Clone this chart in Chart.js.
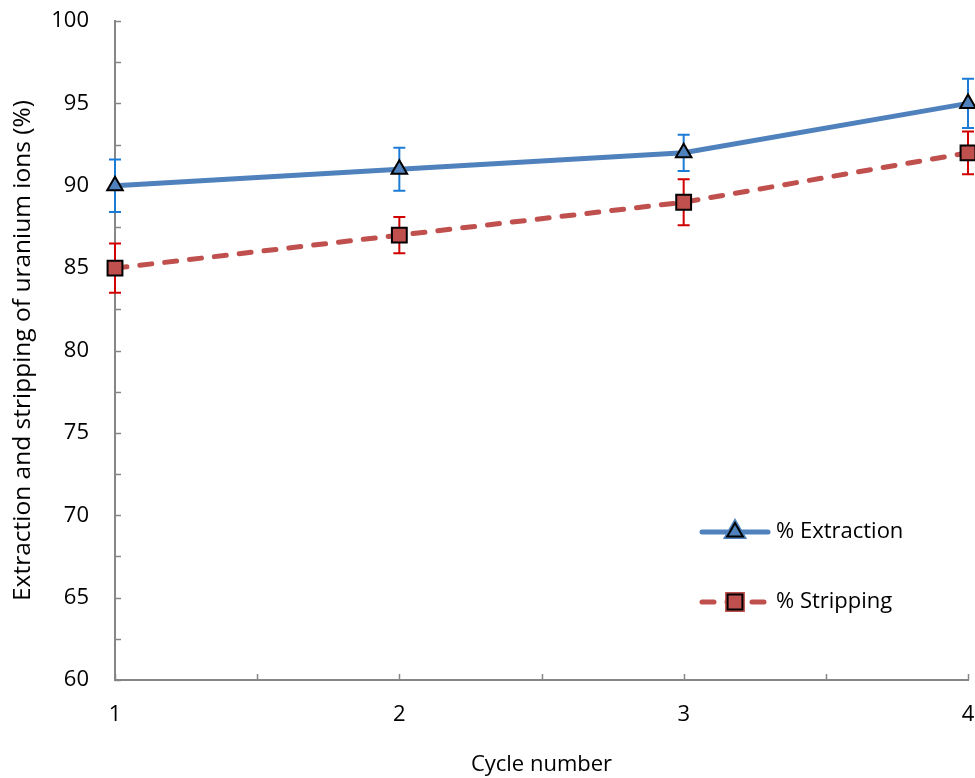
<!DOCTYPE html>
<html>
<head>
<meta charset="utf-8">
<script src="https://cdn.jsdelivr.net/npm/chart.js@4"></script>
<style>
  html, body { margin: 0; padding: 0; background: #fff; }
  #wrap { width: 975px; height: 778px; }
</style>
</head>
<body>
<div id="wrap"><canvas id="chart" width="975" height="778"></canvas></div>
<script>
// values
const cycles = [1, 2, 3, 4];
const extraction = [90, 91, 92, 95];
const extractionErr = [1.6, 1.3, 1.1, 1.5];
const stripping = [85, 87, 89, 92];
const strippingErr = [1.5, 1.1, 1.4, 1.3];
const seriesNames = ['% Extraction', '% Stripping'];

const FONT = 'Open Sans';
const AXIS_GREY = '#868686';
const BLUE = '#4F81BD';
const RED = '#C0504D';

const toPoints = (vals) => cycles.map((c, i) => ({ x: c, y: vals[i] }));

// error bars from the data arrays, through the scales
const errorBars = {
  id: 'errorBars',
  beforeDatasetsDraw(chart) {
    const { ctx, scales: { x, y } } = chart;
    const sets = [
      { vals: extraction, err: extractionErr, color: '#1C7CD5' },
      { vals: stripping, err: strippingErr, color: '#D00000' },
    ];
    ctx.save();
    ctx.lineWidth = 2;
    sets.forEach((s) => {
      ctx.strokeStyle = s.color;
      cycles.forEach((c, i) => {
        const px = x.getPixelForValue(c);
        const top = y.getPixelForValue(s.vals[i] + s.err[i]);
        const bot = y.getPixelForValue(s.vals[i] - s.err[i]);
        ctx.beginPath();
        ctx.moveTo(px, top); ctx.lineTo(px, bot);
        ctx.moveTo(px - 6, top); ctx.lineTo(px + 6, top);
        ctx.moveTo(px - 6, bot); ctx.lineTo(px + 6, bot);
        ctx.stroke();
      });
    });
    ctx.restore();
  },
};

// excel-style tick marks pointing into the plot
const innerTicks = {
  id: 'innerTicks',
  beforeDatasetsDraw(chart) {
    const { ctx, chartArea: a, scales: { x, y } } = chart;
    ctx.save();
    ctx.strokeStyle = AXIS_GREY;
    ctx.lineWidth = 1.5;
    ctx.beginPath();
    y.ticks.forEach((t) => {
      const py = Math.round(y.getPixelForValue(t.value)) + 0.5;
      ctx.moveTo(a.left, py); ctx.lineTo(a.left + 6, py);
    });
    x.ticks.forEach((t) => {
      const px = Math.round(x.getPixelForValue(t.value)) + 0.5;
      ctx.moveTo(px, a.bottom); ctx.lineTo(px, a.bottom - 6);
    });
    ctx.stroke();
    ctx.restore();
  },
};

// legend inside the plot, lower right
const lineLegend = {
  id: 'lineLegend',
  afterDraw(chart) {
    const { ctx } = chart;
    const items = [
      { y: 532, ds: chart.data.datasets[0] },
      { y: 602, ds: chart.data.datasets[1] },
    ];
    ctx.save();
    items.forEach((it, i) => {
      const ds = it.ds;
      ctx.strokeStyle = ds.borderColor;
      ctx.lineWidth = ds.borderWidth;
      ctx.lineCap = 'round';
      ctx.setLineDash(ds.borderDash || []);
      ctx.beginPath();
      ctx.moveTo(702, it.y); ctx.lineTo(768, it.y);
      ctx.stroke();
      ctx.setLineDash([]);
      Chart.helpers.drawPoint(ctx, {
        pointStyle: ds.pointStyle,
        radius: ds.pointRadius,
        borderWidth: ds.pointBorderWidth,
      }, 735, it.y);
      ctx.fillStyle = ds.pointBackgroundColor;
      ctx.strokeStyle = ds.pointBorderColor;
      ctx.lineWidth = ds.pointBorderWidth;
      ctx.fill(); ctx.stroke();
      ctx.fillStyle = '#000';
      ctx.font = '22px "' + FONT + '"';
      ctx.textBaseline = 'middle';
      ctx.textAlign = 'left';
      ctx.fillText(seriesNames[i], 776, it.y);
    });
    ctx.restore();
  },
};

new Chart(document.getElementById('chart'), {
  type: 'scatter',
  data: {
    datasets: [
      {
        label: seriesNames[0],
        data: toPoints(extraction),
        showLine: true,
        borderColor: BLUE,
        borderWidth: 5,
        borderCapStyle: 'round',
        pointStyle: 'triangle',
        pointRadius: 9,
        pointBackgroundColor: BLUE,
        pointBorderColor: '#000',
        pointBorderWidth: 2,
        clip: false,
      },
      {
        label: seriesNames[1],
        data: toPoints(stripping),
        showLine: true,
        borderColor: RED,
        borderWidth: 5,
        borderDash: [12, 13],
        borderCapStyle: 'round',
        pointStyle: 'rect',
        pointRadius: 10.5,
        pointBackgroundColor: RED,
        pointBorderColor: '#000',
        pointBorderWidth: 2,
        clip: false,
      },
    ],
  },
  options: {
    responsive: false,
    animation: false,
    layout: { autoPadding: false, padding: { left: 0, top: 21, right: 7, bottom: 0 } },
    plugins: { legend: { display: false }, tooltip: { enabled: false } },
    scales: {
      x: {
        type: 'linear',
        min: 1,
        max: 4,
        afterFit: (s) => { s.height = 98; s.paddingLeft = 0; s.paddingRight = 0; },
        grid: { display: false },
        border: { display: true, color: AXIS_GREY, width: 2 },
        ticks: {
          stepSize: 0.5,
          autoSkip: false,
          maxRotation: 0,
          padding: 14,
          color: '#000',
          font: { family: FONT, size: 22 },
          callback: (v) => (Number.isInteger(v) ? v : ''),
        },
        title: {
          display: true,
          text: 'Cycle number',
          color: '#000',
          font: { family: FONT, size: 22 },
          padding: { top: 2, bottom: 0 },
        },
      },
      y: {
        min: 60,
        max: 100,
        afterFit: (s) => { s.width = 115; s.paddingTop = 0; s.paddingBottom = 0; },
        grid: { display: false },
        border: { display: true, color: AXIS_GREY, width: 2 },
        ticks: {
          stepSize: 2.5,
          autoSkip: false,
          padding: 18,
          color: '#000',
          font: { family: FONT, size: 22 },
          callback: (v) => (v % 5 === 0 ? v : ''),
        },
        title: {
          display: true,
          text: 'Extraction and stripping of uranium ions (%)',
          color: '#000',
          font: { family: FONT, size: 24.5 },
          padding: { top: 8, bottom: 0 },
        },
      },
    },
  },
  plugins: [errorBars, innerTicks, lineLegend],
});
</script>
</body>
</html>
